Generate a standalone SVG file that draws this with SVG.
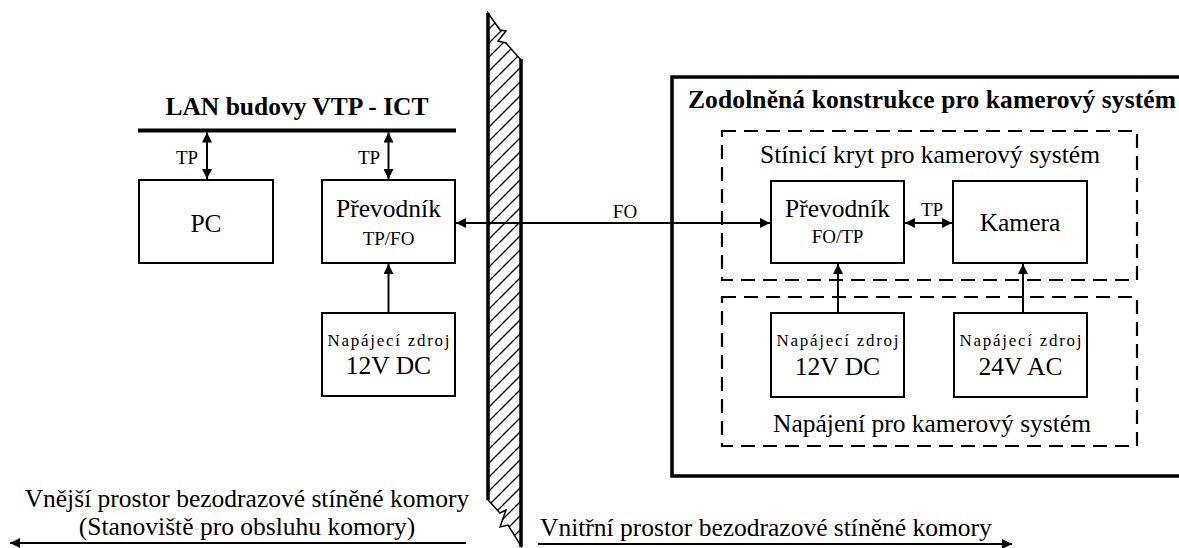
<svg xmlns="http://www.w3.org/2000/svg" width="1179" height="548" viewBox="0 0 1179 548" font-family="'Liberation Serif', 'Times New Roman', Tinos, 'DejaVu Serif', serif">
<style>
.t{font-size:25.5px}
.b{font-size:25.5px;font-weight:bold}
.s{font-size:19px}
.xs{font-size:17px}
.box{fill:#fff;stroke:#000;stroke-width:2}
.dash{fill:none;stroke:#000;stroke-width:2.2;stroke-dasharray:14 8}
.con{fill:none;stroke:#000;stroke-width:2}
</style>
<defs>
<marker id="ah" viewBox="0 0 10 10" refX="10" refY="5" markerWidth="11" markerHeight="10" markerUnits="userSpaceOnUse" orient="auto-start-reverse">
<path d="M0,0 L10,5 L0,10 z" fill="#000"/>
</marker>
<pattern id="hatch" patternUnits="userSpaceOnUse" width="14" height="14">
<path d="M-2,16 L16,-2 M-2,2 L2,-2 M12,16 L16,12" stroke="#000" stroke-width="1.3"/>
</pattern>
</defs>
<rect width="1179" height="548" fill="#fff"/>

<g id="wall">
<path d="M488,13 L500,30 L506,31 L498,41 L506,43 L521,60 L521,546 L508,525 L500,527 L506,510 L500,513 L488,500 Z" fill="url(#hatch)" stroke="#000" stroke-width="1.5"/>
<line x1="488" y1="13" x2="488" y2="500" stroke="#000" stroke-width="3.5"/>
<line x1="521" y1="59" x2="521" y2="547" stroke="#000" stroke-width="3.5"/>
</g>

<g id="lan">
<text class="b" x="297" y="115" text-anchor="middle">LAN budovy VTP - ICT</text>
<line x1="138" y1="130.5" x2="456" y2="130.5" stroke="#000" stroke-width="4"/>
</g>

<g id="pc">
<rect class="box" x="139" y="180" width="134" height="83"/>
<text class="t" x="206" y="232" text-anchor="middle">PC</text>
</g>

<g id="prevodnik-left">
<rect class="box" x="322" y="180" width="133" height="83"/>
<text class="t" x="388.5" y="217" text-anchor="middle">Převodník</text>
<text class="s" x="388.5" y="245" text-anchor="middle">TP/FO</text>
</g>

<g id="zdroj-left">
<rect class="box" x="322" y="313" width="133" height="83"/>
<text class="xs" x="388.5" y="346" text-anchor="middle" textLength="122" lengthAdjust="spacing">Napájecí zdroj</text>
<text class="t" x="388.5" y="374" text-anchor="middle">12V DC</text>
</g>

<g id="konstrukce">
<path d="M1182,77 H672 V476 H1182" fill="none" stroke="#000" stroke-width="3.5"/>
<text class="b" x="688" y="108" textLength="488" lengthAdjust="spacing">Zodolněná konstrukce pro kamerový systém</text>
</g>

<g id="kryt">
<rect class="dash" x="722" y="131" width="415" height="149"/>
<text class="t" x="930" y="163" text-anchor="middle">Stínicí kryt pro kamerový systém</text>
</g>

<g id="napajeni">
<rect class="dash" x="722" y="297" width="415" height="149"/>
<text class="t" x="932" y="432" text-anchor="middle">Napájení pro kamerový systém</text>
</g>

<g id="prevodnik-right">
<rect class="box" x="771" y="181" width="133" height="82"/>
<text class="t" x="837.5" y="217" text-anchor="middle">Převodník</text>
<text class="s" x="837.5" y="243" text-anchor="middle">FO/TP</text>
</g>

<g id="kamera">
<rect class="box" x="953" y="181" width="134" height="82"/>
<text class="t" x="1020" y="231" text-anchor="middle">Kamera</text>
</g>

<g id="zdroj-12">
<rect class="box" x="771" y="313" width="133" height="84"/>
<text class="xs" x="837.5" y="346" text-anchor="middle" textLength="122" lengthAdjust="spacing">Napájecí zdroj</text>
<text class="t" x="837.5" y="375" text-anchor="middle">12V DC</text>
</g>

<g id="zdroj-24">
<rect class="box" x="954" y="313" width="133" height="84"/>
<text class="xs" x="1020.5" y="346" text-anchor="middle" textLength="122" lengthAdjust="spacing">Napájecí zdroj</text>
<text class="t" x="1020.5" y="375" text-anchor="middle">24V AC</text>
</g>

<g id="connectors">
<line class="con" x1="207" y1="132.5" x2="207" y2="179" marker-start="url(#ah)" marker-end="url(#ah)"/>
<text class="s" x="187" y="164" text-anchor="middle">TP</text>
<line class="con" x1="388.5" y1="132.5" x2="388.5" y2="179" marker-start="url(#ah)" marker-end="url(#ah)"/>
<text class="s" x="369" y="164" text-anchor="middle">TP</text>
<line class="con" x1="388.5" y1="312" x2="388.5" y2="264" marker-end="url(#ah)"/>
<line class="con" x1="456" y1="223" x2="770" y2="223" marker-start="url(#ah)" marker-end="url(#ah)"/>
<text class="s" x="625" y="218" text-anchor="middle">FO</text>
<line class="con" x1="905" y1="223" x2="952" y2="223" marker-start="url(#ah)" marker-end="url(#ah)"/>
<text class="s" x="932" y="216" text-anchor="middle">TP</text>
<line class="con" x1="838" y1="312" x2="838" y2="264" marker-end="url(#ah)"/>
<line class="con" x1="1023" y1="312" x2="1023" y2="264" marker-end="url(#ah)"/>
</g>

<g id="outside">
<text class="t" x="247" y="507" text-anchor="middle">Vnější prostor bezodrazové stíněné komory</text>
<text class="t" x="247" y="535" text-anchor="middle">(Stanoviště pro obsluhu komory)</text>
<line class="con" x1="466" y1="543" x2="10" y2="543" marker-end="url(#ah)"/>
</g>

<g id="inside">
<text class="t" x="540" y="536">Vnitřní prostor bezodrazové stíněné komory</text>
<line class="con" x1="538" y1="544" x2="1012" y2="544" marker-end="url(#ah)"/>
</g>
</svg>
